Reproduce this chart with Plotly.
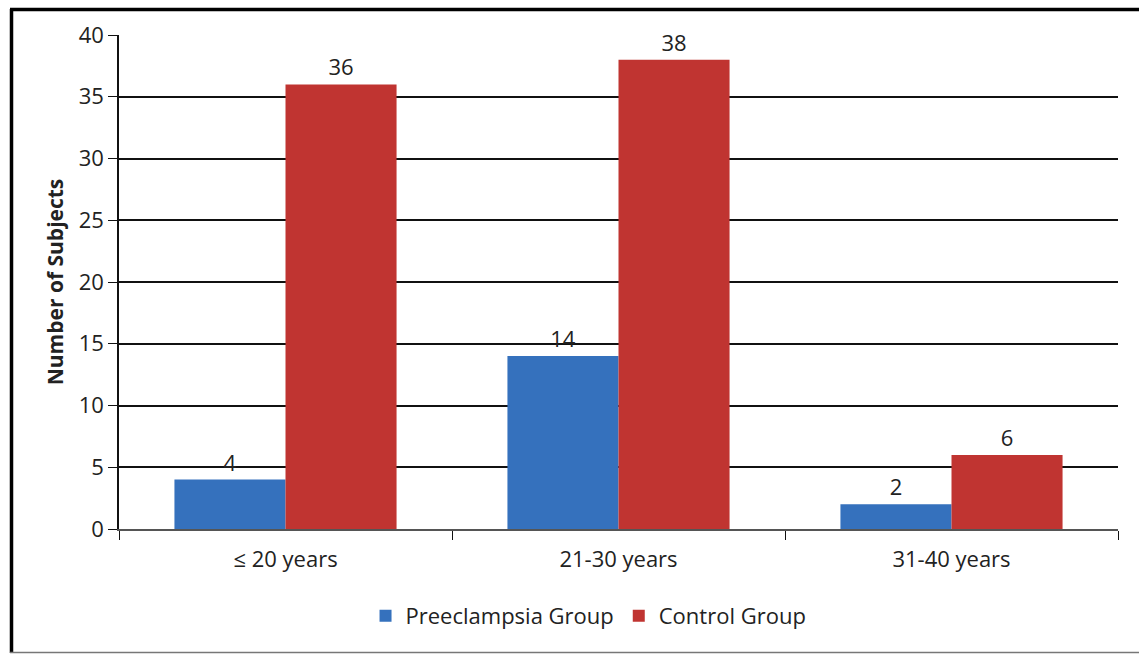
import plotly.graph_objects as go

# Age groups and subject counts
age_groups = ["≤ 20 years", "21-30 years", "31-40 years"]
preeclampsia = [4, 14, 2]
control = [36, 38, 6]
y_ticks = [0, 5, 10, 15, 20, 25, 30, 35, 40]

FONT = "Open Sans"
TEXT = "#222222"
FS = 22

fig = go.Figure()
fig.add_trace(go.Bar(
    name="Preeclampsia Group", x=age_groups, y=preeclampsia,
    marker=dict(color="#3571bd", line=dict(width=0)),
    text=preeclampsia, textposition="outside", cliponaxis=False,
    textfont=dict(family=FONT, size=FS, color=TEXT),
))
fig.add_trace(go.Bar(
    name="Control Group", x=age_groups, y=control,
    marker=dict(color="#c03431", line=dict(width=0)),
    text=control, textposition="outside", cliponaxis=False,
    textfont=dict(family=FONT, size=FS, color=TEXT),
))

W, H = 1139, 654
L, R, T, B = 119, 21, 35, 125
pw, ph = W - L - R, H - T - B


def px_x(p):
    return (p - L) / pw


def px_y(p):
    return (H - B - p) / ph


fig.update_layout(
    width=W, height=H,
    margin=dict(l=L, r=R, t=T, b=B),
    paper_bgcolor="white", plot_bgcolor="white",
    barmode="group", bargap=0.333, bargroupgap=0,
    font=dict(family=FONT, size=FS, color=TEXT),
    showlegend=True,
    legend=dict(orientation="h", x=0.47, xanchor="center", y=px_y(616), yanchor="middle",
                font=dict(family=FONT, size=FS, color=TEXT), itemwidth=30,
                traceorder="normal"),
    xaxis=dict(
        showline=True, linecolor="#555555", linewidth=1.5,
        ticks="outside", tickson="boundaries", ticklen=9, tickcolor="#111111",
        ticklabelstandoff=10,
        tickfont=dict(family=FONT, size=FS, color=TEXT),
        showgrid=False,
    ),
    yaxis=dict(
        range=[0, 40], tickvals=y_ticks,
        showline=True, linecolor="#111111", linewidth=1.5,
        ticks="outside", ticklen=9, tickcolor="#111111",
        ticklabelstandoff=0,
        showgrid=True, gridcolor="#111111", gridwidth=1.5,
        zeroline=False,
        tickfont=dict(family=FONT, size=FS, color=TEXT),
        title=dict(text="<b>Number of Subjects</b>", standoff=9,
                   font=dict(family=FONT, size=21, color=TEXT)),
    ),
)

# Outer frame around the whole chart
fig.add_shape(type="line", xref="paper", yref="paper",
              x0=px_x(11.5), x1=px_x(11.5), y0=px_y(9), y1=px_y(653),
              line=dict(color="black", width=3.5))
fig.add_shape(type="line", xref="paper", yref="paper",
              x0=px_x(10), x1=px_x(1139), y0=px_y(9.5), y1=px_y(9.5),
              line=dict(color="black", width=3.5))
fig.add_shape(type="line", xref="paper", yref="paper",
              x0=px_x(10), x1=px_x(1139), y0=px_y(652.5), y1=px_y(652.5),
              line=dict(color="#777777", width=1.5))

fig.write_html("out.html")
